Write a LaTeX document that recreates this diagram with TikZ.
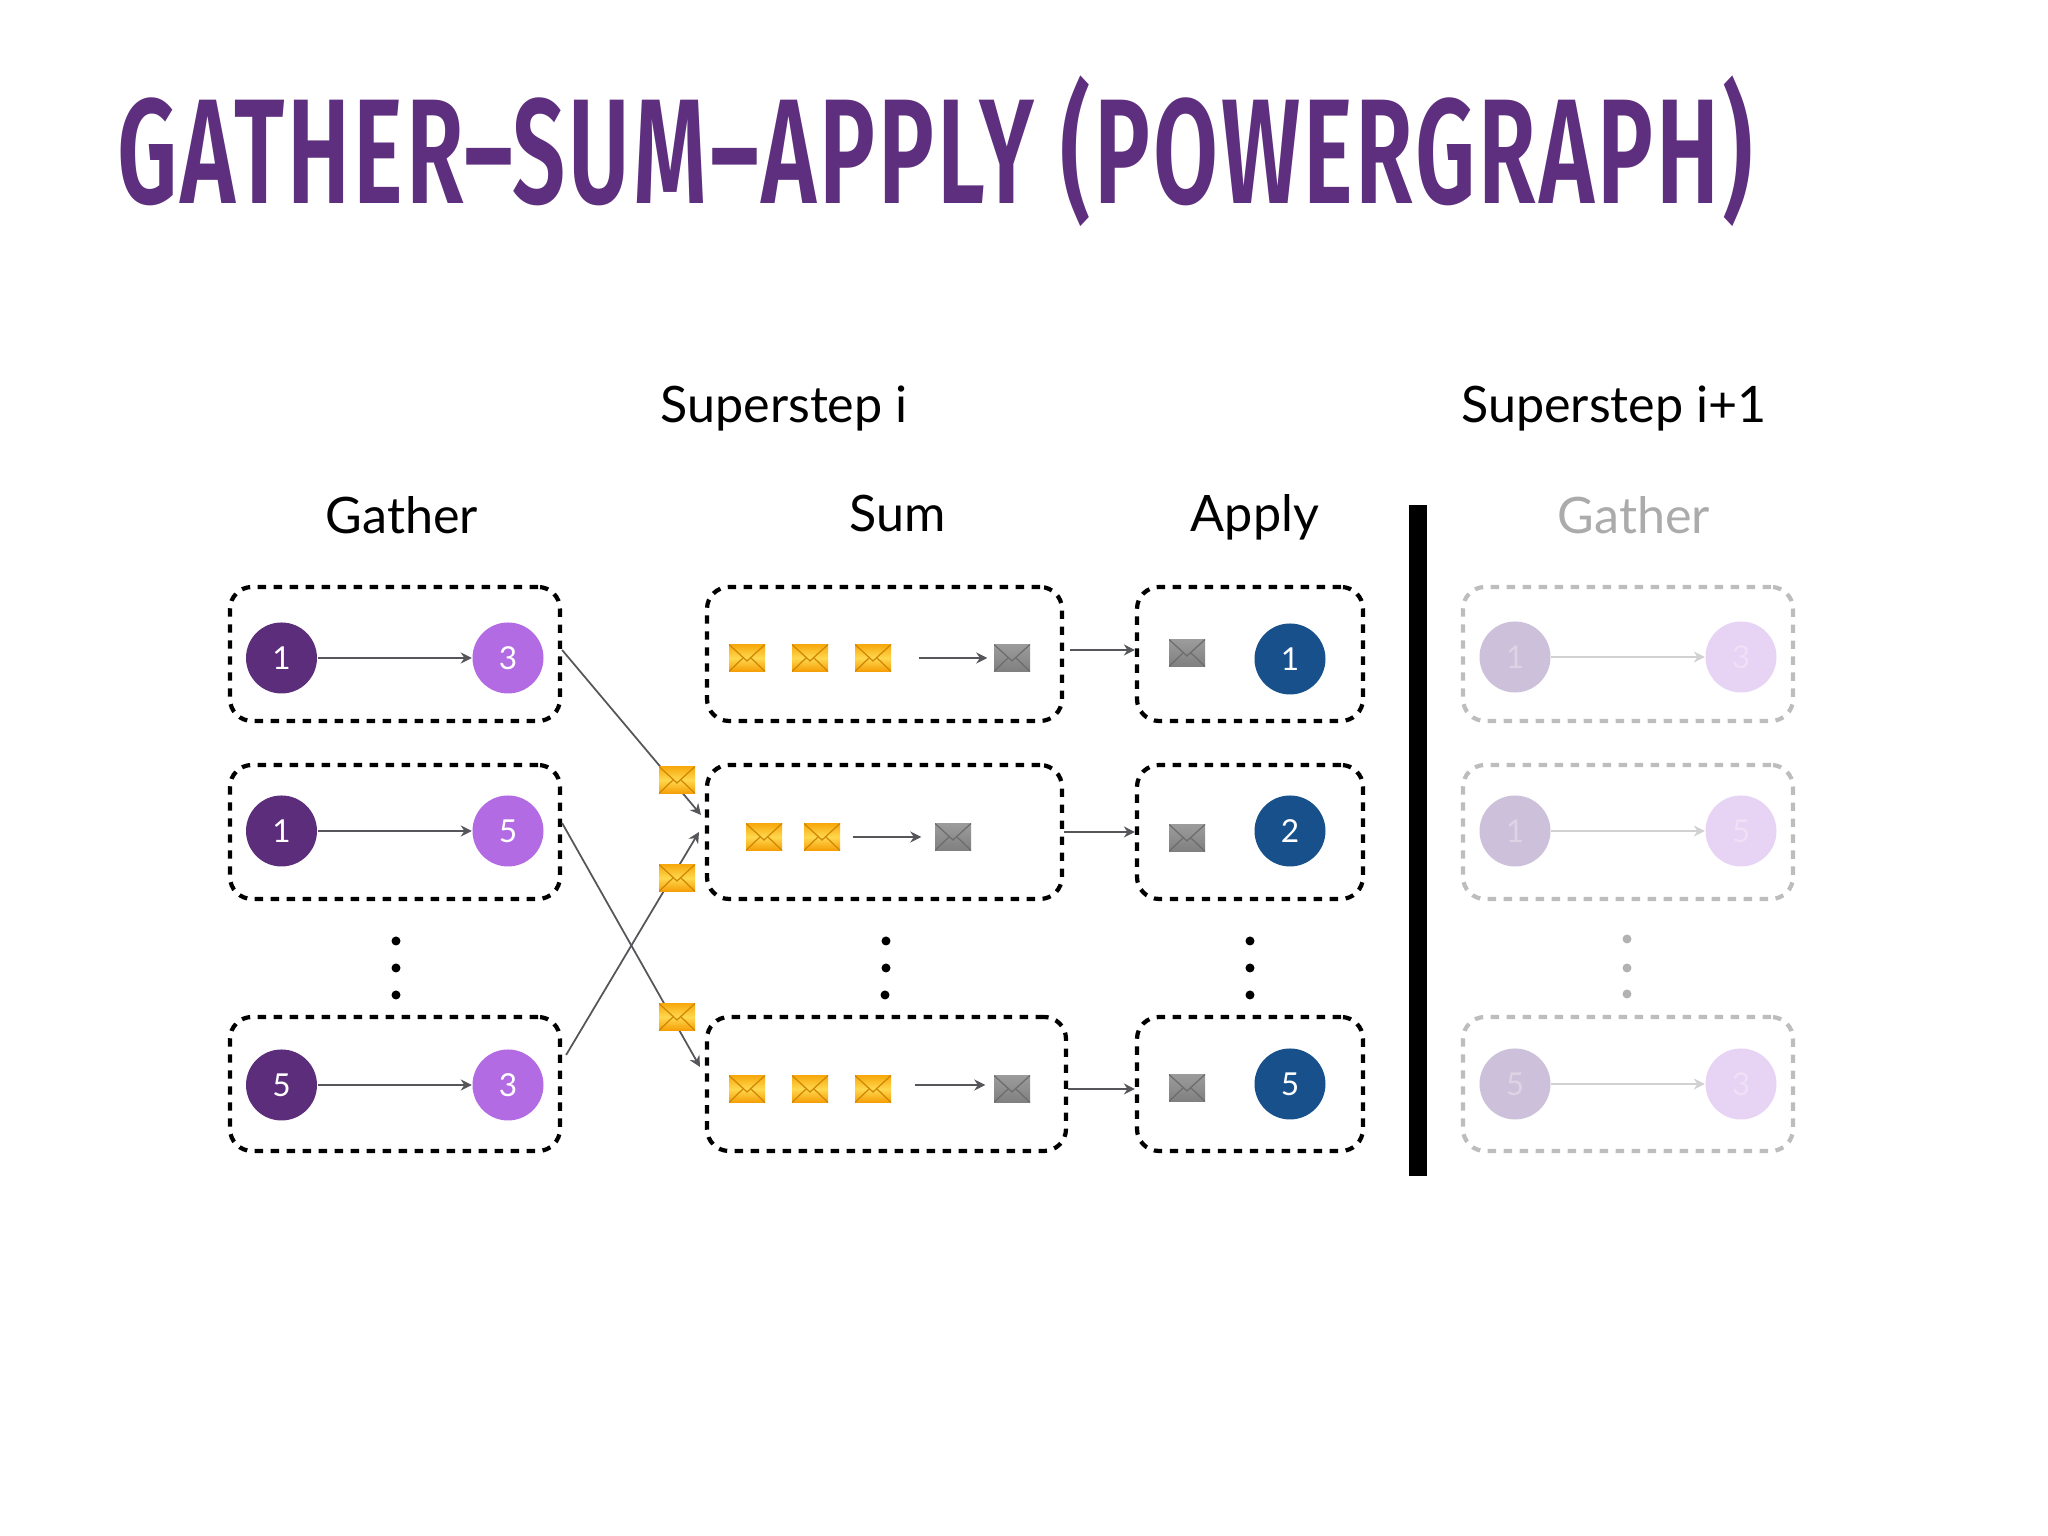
\documentclass[tikz,border=0pt]{standalone}
\usepackage{fontspec}
\usepackage{xcolor}
\usetikzlibrary{arrows.meta}
\setmainfont{Lato}
\newfontfamily\titlefont[FakeStretch=0.63,LetterSpace=2]{Fira Sans SemiBold}

\definecolor{titlepurple}{HTML}{5E2F7E}
\definecolor{darkpurple}{HTML}{5C2D7B}
\definecolor{lightpurple}{HTML}{B26BE3}
\definecolor{applyblue}{HTML}{17508A}
\definecolor{linegray}{HTML}{55565A}
\definecolor{fadeleft}{HTML}{CDC0DA}
\definecolor{faderight}{HTML}{E7D3F4}
\definecolor{fadeline}{HTML}{BDBDBD}
\definecolor{mailtop}{HTML}{F7A90C}
\definecolor{mailmid}{HTML}{FFD84E}
\definecolor{mailend}{HTML}{F59E06}
\definecolor{senttop}{HTML}{9C9C9C}
\definecolor{sentmid}{HTML}{8E8E8E}
\definecolor{sentend}{HTML}{7F7F7F}

\begin{document}
\begin{tikzpicture}[
		title/.style={font=\titlefont\fontsize{42.5}{50}\selectfont, text=titlepurple, anchor=base west, inner sep=0pt},
		head/.style={font=\fontsize{14.3}{17}\selectfont, anchor=base, inner sep=0pt},
		group/.style={
			draw, rectangle, rounded corners=.22cm, line width=1.2pt,
			dash pattern=on 2.4pt off 2.15pt,
			minimum height=1.34cm, inner sep=0pt
		},
		fadegroup/.style={group, draw=fadeline},
		vertex/.style={
			circle, minimum size=.71cm, inner sep=0pt, text=white,
			font=\fontsize{9}{10}\selectfont
		},
		env/.style n args={3}{
			rectangle, minimum width=.36cm, minimum height=.27cm, inner sep=0pt,
			top color=#1, bottom color=#3, middle color=#2,
			path picture={
				\draw[#3!85!black, line width=.35pt]
					(path picture bounding box.north west) -- ([yshift=-.03cm]path picture bounding box.center)
					-- (path picture bounding box.north east);
				\draw[#3!85!black, line width=.35pt]
					(path picture bounding box.south west) -- ([xshift=-.04cm]path picture bounding box.center);
				\draw[#3!85!black, line width=.35pt]
					(path picture bounding box.south east) -- ([xshift=.04cm]path picture bounding box.center);
			}
		},
		mail/.style={env={mailtop}{mailmid}{mailend}},
		sent/.style={env={senttop}{sentmid}{sentend}},
		dotmark/.style={circle, fill, minimum size=.09cm, inner sep=0pt},
		arr/.style={-{Stealth[length=.11cm, width=.11cm]}, line width=.5pt, linegray},
		fadearr/.style={-{Stealth[length=.11cm, width=.11cm]}, line width=.5pt, fadeline!70},
		]
		
		\useasboundingbox (0, 0) rectangle (20.48, 15.36);
		
		\node[title] (heading) at (1.17, 13.32) {GATHER–SUM–APPLY (POWERGRAPH)};
		
		\node[head] (stepi)  at (7.84, 11.13) {Superstep i};
		\node[head] (stepj)  at (16.14, 11.13) {Superstep i+1};
		\node[head] (gather) at (4.02, 10.02) {Gather};
		\node[head] (sum)    at (8.98, 10.04) {Sum};
		\node[head] (apply)  at (12.55, 10.04) {Apply};
		\node[head, text=black!33] (gatherb) at (16.34, 10.02) {Gather};
		
		% gather column
		\node[group, minimum width=3.30cm] (g1) at (3.95, 8.82) {};
		\node[group, minimum width=3.30cm] (g2) at (3.95, 7.04) {};
		\node[group, minimum width=3.30cm] (g3) at (3.95, 4.52) {};
		
		\node[vertex, fill=darkpurple]  (g1a) at (2.815, 8.78) {1};
		\node[vertex, fill=lightpurple] (g1b) at (5.08, 8.78) {3};
		\node[vertex, fill=darkpurple]  (g2a) at (2.815, 7.05) {1};
		\node[vertex, fill=lightpurple] (g2b) at (5.08, 7.05) {5};
		\node[vertex, fill=darkpurple]  (g3a) at (2.815, 4.51) {5};
		\node[vertex, fill=lightpurple] (g3b) at (5.08, 4.51) {3};
		
		\draw[arr] (g1a) -- (g1b);
		\draw[arr] (g2a) -- (g2b);
		\draw[arr] (g3a) -- (g3b);
		
		\node[dotmark] (gd1) at (3.96, 5.95) {};
		\node[dotmark] (gd2) at (3.96, 5.68) {};
		\node[dotmark] (gd3) at (3.96, 5.41) {};
		
		% sum column
		\node[group, minimum width=3.55cm] (s1) at (8.845, 8.82) {};
		\node[group, minimum width=3.55cm] (s2) at (8.845, 7.04) {};
		\node[group, minimum width=3.59cm] (s3) at (8.865, 4.52) {};
		
		\node[mail] (s1a) at (7.47, 8.78) {};
		\node[mail] (s1b) at (8.10, 8.78) {};
		\node[mail] (s1c) at (8.73, 8.78) {};
		\node[sent] (s1d) at (10.12, 8.78) {};
		\draw[arr, shorten <=.27cm, shorten >=.06cm] (s1c) -- (s1d);
		
		\node[mail] (s2a) at (7.64, 6.99) {};
		\node[mail] (s2b) at (8.22, 6.99) {};
		\node[sent] (s2c) at (9.53, 6.99) {};
		\draw[arr, shorten <=.12cm, shorten >=.13cm] (s2b) -- (s2c);
		
		\node[mail] (s3a) at (7.47, 4.47) {};
		\node[mail] (s3b) at (8.10, 4.47) {};
		\node[mail] (s3c) at (8.73, 4.47) {};
		\node[sent] (s3d) at (10.12, 4.47) {};
		\draw[arr, shorten <=.23cm, shorten >=.08cm] ([yshift=.04cm]s3c.east) -- ([yshift=.04cm]s3d.west);
		
		\node[dotmark] (sd1) at (8.86, 5.95) {};
		\node[dotmark] (sd2) at (8.86, 5.68) {};
		\node[dotmark] (sd3) at (8.85, 5.41) {};
		
		% messages between gather and sum
		\coordinate (in1) at (7.01, 7.21);
		\coordinate (in2) at (7.00, 4.69);
		\coordinate (in3) at (6.99, 7.04);
		
		\draw[arr] ([yshift=.04cm]g1.east) -- (in1);
		\draw[arr] ([yshift=.09cm]g2.east) -- (in2);
		\draw[arr] ([xshift=.04cm, yshift=.29cm]g3.east) -- (in3);
		
		\node[mail] (m1) at (6.77, 7.56) {};
		\node[mail] (m2) at (6.77, 6.58) {};
		\node[mail] (m3) at (6.77, 5.19) {};
		
		% apply column
		\node[group, minimum width=2.26cm] (a1) at (12.50, 8.82) {};
		\node[group, minimum width=2.26cm] (a2) at (12.50, 7.04) {};
		\node[group, minimum width=2.26cm] (a3) at (12.50, 4.52) {};
		
		\node[sent] (a1m) at (11.87, 8.83) {};
		\node[sent] (a2m) at (11.87, 6.98) {};
		\node[sent] (a3m) at (11.87, 4.48) {};
		
		\node[vertex, fill=applyblue] (a1v) at (12.90, 8.77) {1};
		\node[vertex, fill=applyblue] (a2v) at (12.90, 7.05) {2};
		\node[vertex, fill=applyblue] (a3v) at (12.90, 4.52) {5};
		
		\draw[arr, shorten <=.06cm] ([yshift=.04cm]s1.east) -- ([yshift=.04cm]a1.west);
		\draw[arr] (s2.east) -- (a2.west);
		\draw[arr] ([yshift=-.05cm]s3.east) -- ([yshift=-.05cm]a3.west);
		
		\node[dotmark] (ad1) at (12.50, 5.95) {};
		\node[dotmark] (ad2) at (12.50, 5.68) {};
		\node[dotmark] (ad3) at (12.50, 5.41) {};
		
		% bar between the supersteps
		\node[rectangle, fill=black, minimum width=.18cm, minimum height=6.71cm, inner sep=0pt] (bar) at (14.18, 6.955) {};
		
		% next superstep, faded
		\node[fadegroup, minimum width=3.30cm] (h1) at (16.28, 8.82) {};
		\node[fadegroup, minimum width=3.30cm] (h2) at (16.28, 7.04) {};
		\node[fadegroup, minimum width=3.30cm] (h3) at (16.28, 4.52) {};
		
		\node[vertex, fill=fadeleft, text=fadeleft!70!white]   (h1a) at (15.15, 8.79) {1};
		\node[vertex, fill=faderight, text=faderight!70!white] (h1b) at (17.41, 8.79) {3};
		\node[vertex, fill=fadeleft, text=fadeleft!70!white]   (h2a) at (15.15, 7.05) {1};
		\node[vertex, fill=faderight, text=faderight!70!white] (h2b) at (17.41, 7.05) {5};
		\node[vertex, fill=fadeleft, text=fadeleft!70!white]   (h3a) at (15.15, 4.52) {5};
		\node[vertex, fill=faderight, text=faderight!70!white] (h3b) at (17.41, 4.52) {3};
		
		\draw[fadearr] (h1a) -- (h1b);
		\draw[fadearr] (h2a) -- (h2b);
		\draw[fadearr] (h3a) -- (h3b);
		
		\node[dotmark, fill=black!30] (hd1) at (16.27, 5.97) {};
		\node[dotmark, fill=black!30] (hd2) at (16.27, 5.68) {};
		\node[dotmark, fill=black!30] (hd3) at (16.27, 5.42) {};
		
	\end{tikzpicture}
\end{document}
